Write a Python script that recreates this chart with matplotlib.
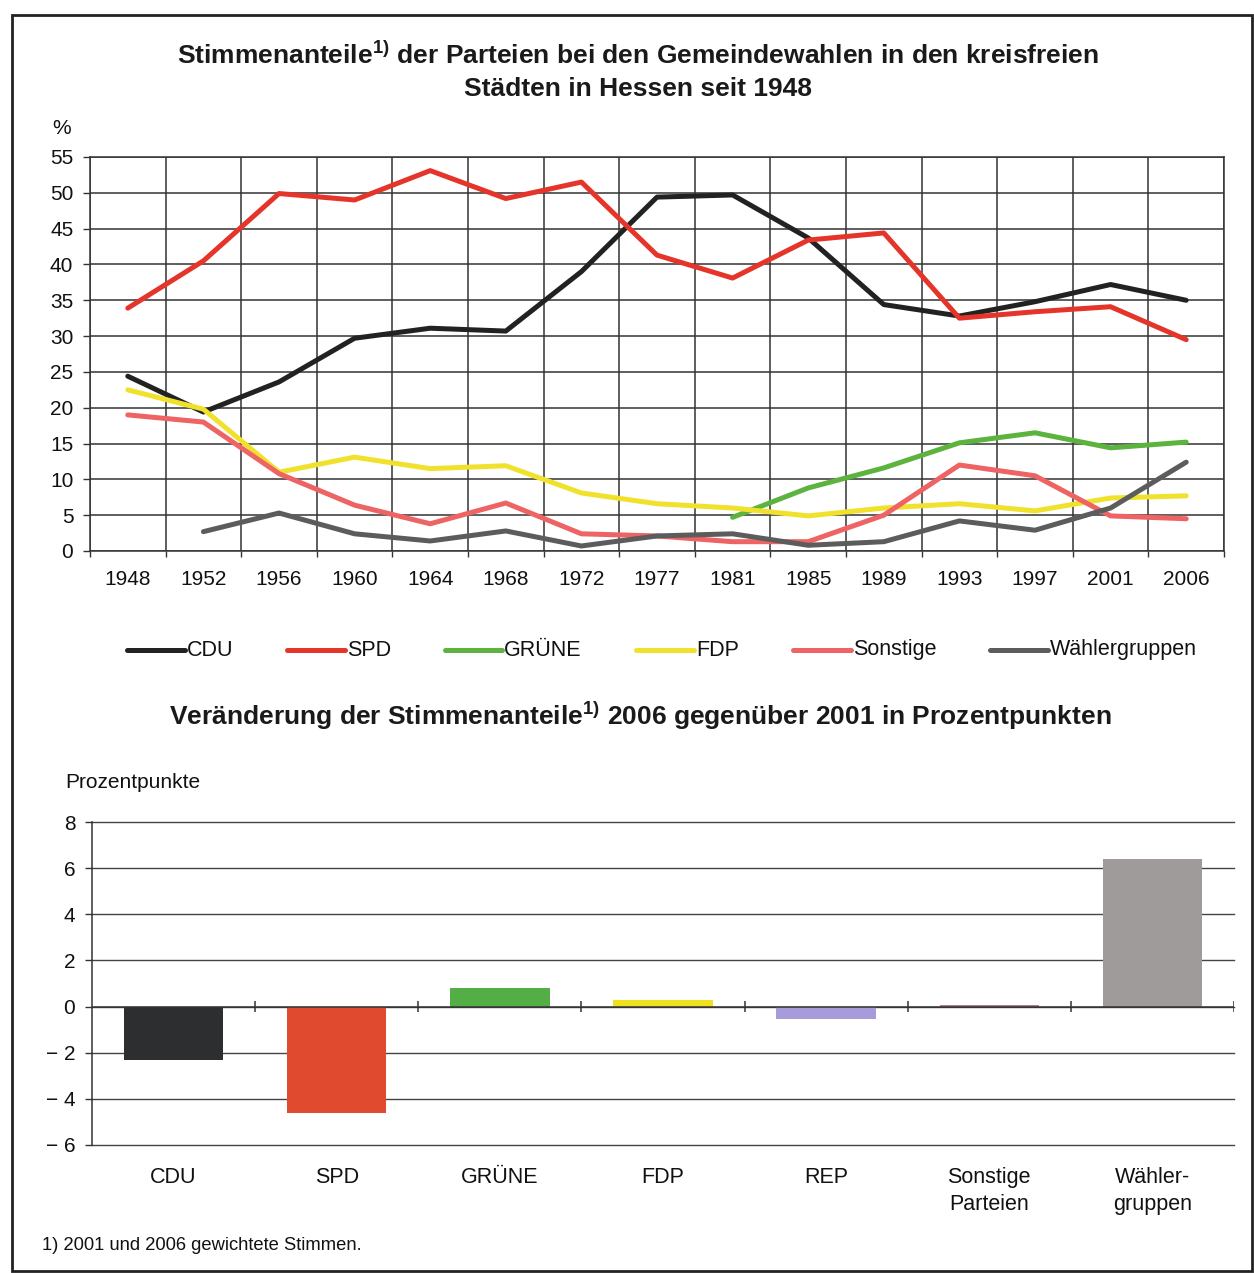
import matplotlib
matplotlib.use("Agg")
import matplotlib.pyplot as plt
from matplotlib.lines import Line2D
from matplotlib.patches import Rectangle
import numpy as np

plt.rcParams['font.family'] = ['Liberation Sans', 'DejaVu Sans']
plt.rcParams['mathtext.default'] = 'regular'

# ---------------- data ----------------
years = ["1948", "1952", "1956", "1960", "1964", "1968", "1972", "1977",
         "1981", "1985", "1989", "1993", "1997", "2001", "2006"]
cdu = [24.4, 19.4, 23.6, 29.7, 31.1, 30.7, 39.0, 49.4, 49.7, 43.7, 34.4, 32.8, 34.8, 37.2, 35.0]
spd = [33.9, 40.5, 49.9, 49.0, 53.1, 49.2, 51.5, 41.3, 38.1, 43.4, 44.4, 32.5, 33.4, 34.1, 29.5]
gruene = [None, None, None, None, None, None, None, None, 4.7, 8.8, 11.6, 15.1, 16.5, 14.4, 15.2]
fdp = [22.5, 19.8, 11.0, 13.1, 11.5, 11.9, 8.1, 6.6, 6.0, 4.9, 6.0, 6.6, 5.6, 7.4, 7.7]
sonstige = [19.0, 18.0, 10.8, 6.4, 3.8, 6.7, 2.4, 2.1, 1.3, 1.3, 5.0, 12.0, 10.5, 4.9, 4.5]
waehler = [None, 2.7, 5.3, 2.4, 1.4, 2.8, 0.7, 2.1, 2.4, 0.8, 1.3, 4.2, 2.9, 6.0, 12.4]

series_names = ["CDU", "SPD", "GRÜNE", "FDP", "Sonstige", "Wählergruppen"]
series_vals = [cdu, spd, gruene, fdp, sonstige, waehler]
series_cols = ["#222222", "#e5352b", "#5cb33e", "#f0e22c", "#ee6363", "#5c5c5c"]

bar_cats = ["CDU", "SPD", "GRÜNE", "FDP", "REP", "Sonstige\nParteien", "Wähler-\ngruppen"]
bar_vals = [-2.3, -4.6, 0.8, 0.3, -0.55, 0.05, 6.4]
bar_cols = ["#2c2e2f", "#e04b30", "#52ae45", "#f0e020", "#a79bd9", "#b07c88", "#9f9b9b"]

W, H = 1254, 1273
def fx(px): return px / W
def fy(py): return 1 - py / H

fig = plt.figure(figsize=(W / 100, H / 100), dpi=100)
fig.patch.set_facecolor("white")

# border frame
fig.add_artist(Rectangle((fx(12), fy(1271)), fx(1252) - fx(12), fy(15) - fy(1271),
                         transform=fig.transFigure, fill=False, edgecolor="#222222", lw=2))

# ---------------- top chart ----------------
ax = fig.add_axes([fx(90), fy(551), fx(1224) - fx(90), fy(157) - fy(551)])
x = np.arange(len(years))
for name, vals, col in zip(series_names, series_vals, series_cols):
    v = np.array([np.nan if a is None else a for a in vals], dtype=float)
    ax.plot(x, v, color=col, lw=3.6, solid_capstyle="round", solid_joinstyle="round", zorder=3)

ax.set_xlim(-0.5, len(years) - 0.5)
ax.set_ylim(0, 55)
ax.set_yticks(np.arange(0, 56, 5))
ax.set_xticks(x)
ax.set_xticklabels(years)
ax.set_xticks(np.arange(-0.5, len(years), 1), minor=True)
ax.tick_params(axis="x", which="major", length=0, pad=14, labelsize=15, colors="#111111")
ax.tick_params(axis="x", which="minor", length=4, width=1, direction="out", color="#333333")
ax.tick_params(axis="y", which="major", length=5, width=1, direction="out", labelsize=15,
               colors="#111111", color="#333333", pad=7)
ax.grid(True, which="minor", axis="x", color="#333333", lw=1.1)
ax.grid(True, which="major", axis="y", color="#333333", lw=1.1)
for s in ax.spines.values():
    s.set_color("#333333")
    s.set_linewidth(1.1)
ax.set_axisbelow(True)

fig.text(fx(52), fy(128), "%", fontsize=15, ha="left", va="center", color="#111111")

fig.text(fx(638), fy(55), "Stimmenanteile$^{1)}$ der Parteien bei den Gemeindewahlen in den kreisfreien",
         fontsize=19, fontweight="bold", ha="center", va="center", color="#1a1a1a")
fig.text(fx(638), fy(89), "Städten in Hessen seit 1948",
         fontsize=19, fontweight="bold", ha="center", va="center", color="#1a1a1a")

# legend (manual)
leg_pos = [(127, 185), (287, 345), (445, 502), (636, 694), (793, 851), (990, 1048)]
for (x0, x1), name, col in zip(leg_pos, series_names, series_cols):
    fig.add_artist(Line2D([fx(x0), fx(x1)], [fy(650), fy(650)], transform=fig.transFigure,
                          color=col, lw=3.6, solid_capstyle="round"))
    fig.text(fx(x1 + 2), fy(650), name, fontsize=15.5, ha="left", va="center", color="#111111")

# ---------------- bottom chart ----------------
fig.text(fx(640), fy(716), "Veränderung der Stimmenanteile$^{1)}$ 2006 gegenüber 2001 in Prozentpunkten",
         fontsize=19, fontweight="bold", ha="center", va="center", color="#1a1a1a")

bx = fig.add_axes([fx(92), fy(1145), fx(1234) - fx(92), fy(822) - fy(1145)])
xb = np.arange(len(bar_cats))
bx.bar(xb, bar_vals, width=0.61, color=bar_cols, zorder=3)
bx.set_xlim(-0.5, len(bar_cats) - 0.5)
bx.set_ylim(-6, 8)
yt = np.arange(-6, 9, 2)
bx.set_yticks(yt)
bx.set_yticklabels([("− %d" % -v) if v < 0 else str(v) for v in yt])
bx.grid(True, axis="y", color="#444444", lw=1.0)
for gl in bx.get_ygridlines():
    gl.set_clip_on(False)
bx.set_axisbelow(True)
for side in ["top", "right", "bottom"]:
    bx.spines[side].set_visible(False)
bx.spines["left"].set_color("#333333")
bx.spines["left"].set_linewidth(1.1)
bx.tick_params(axis="y", length=5, width=1, direction="out", labelsize=15, colors="#111111",
               color="#333333", pad=7)
bx.set_xticks(xb)
bx.set_xticklabels(bar_cats, linespacing=1.35)
bx.tick_params(axis="x", length=0, pad=16, labelsize=15.5, colors="#111111")
bx.axhline(0, color="#333333", lw=1.1, zorder=4)
bx.vlines(np.arange(0.5, len(bar_cats), 1), -0.25, 0.25, color="#333333", lw=1.1, zorder=4)

fig.text(fx(65), fy(782), "Prozentpunkte", fontsize=15, ha="left", va="center", color="#111111")
fig.text(fx(42), fy(1245), "1) 2001 und 2006 gewichtete Stimmen.", fontsize=13.2,
         ha="left", va="center", color="#111111")

fig.savefig("out.png", dpi=100, facecolor="white")
